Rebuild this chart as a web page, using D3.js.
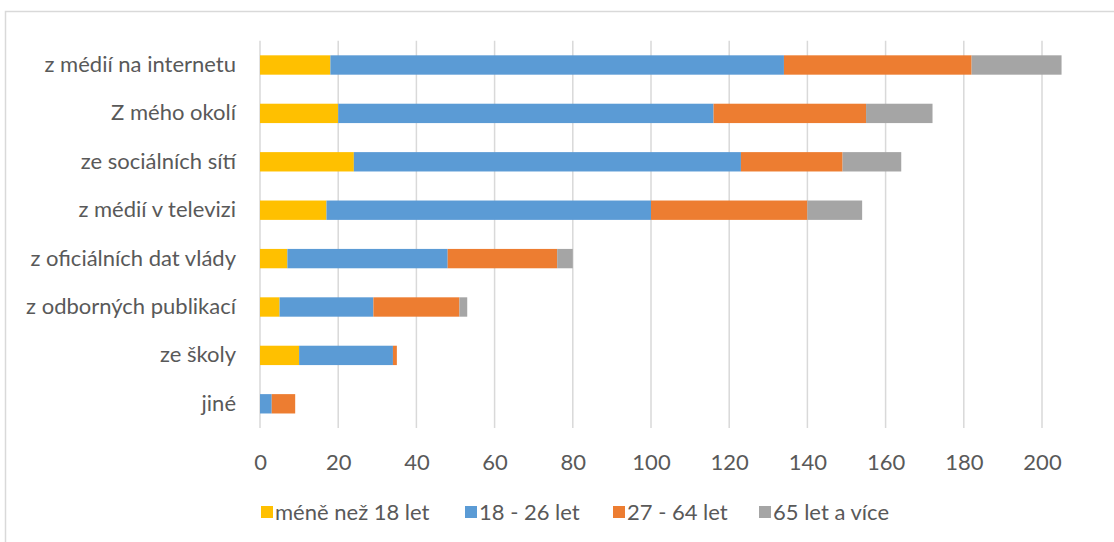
<!DOCTYPE html>
<html>
<head>
<meta charset="utf-8">
<script src="https://cdn.jsdelivr.net/npm/d3@7"></script>
<style>
  html, body { margin: 0; padding: 0; background: #ffffff; }
  svg { display: block; font-family: Lato, "Open Sans", sans-serif; }
</style>
</head>
<body>
<svg id="chart" width="1114" height="542"></svg>
<script>
const categories = [
  "z médií na internetu",
  "Z mého okolí",
  "ze sociálních sítí",
  "z médií v televizi",
  "z oficiálních dat vlády",
  "z odborných publikací",
  "ze školy",
  "jiné"
];
const seriesNames = ["méně než 18 let", "18 - 26 let", "27 - 64 let", "65 let a více"];
const under18  = [18, 20, 24, 17, 7, 5, 10, 0];
const age18_26 = [116, 96, 99, 83, 41, 24, 24, 3];
const age27_64 = [48, 39, 26, 40, 28, 22, 1, 6];
const age65    = [23, 17, 15, 14, 4, 2, 0, 0];
const xTicks = [0, 20, 40, 60, 80, 100, 120, 140, 160, 180, 200];
const colors = ["#FFC000", "#5B9BD5", "#ED7D31", "#A5A5A5"];

const rows = categories.map((c, i) => ({
  cat: c,
  [seriesNames[0]]: under18[i],
  [seriesNames[1]]: age18_26[i],
  [seriesNames[2]]: age27_64[i],
  [seriesNames[3]]: age65[i]
}));

const svg = d3.select("#chart");
const textColor = "#595959";
const fontSize = 22;

// outer chart border
svg.append("rect")
  .attr("x", 5.5).attr("y", 11.5)
  .attr("width", 1200).attr("height", 600)
  .attr("fill", "none").attr("stroke", "#d9d9d9").attr("stroke-width", 1.5);

const plot = { left: 260, right: 1042, top: 40.8, bottom: 428 };

const x = d3.scaleLinear().domain([0, 200]).range([plot.left, plot.right]);
const y = d3.scaleBand().domain(categories).range([plot.top, plot.bottom])
  .paddingInner(0.6).paddingOuter(0.3);

// gridlines
svg.append("g").selectAll("line").data(xTicks).join("line")
  .attr("x1", d => x(d)).attr("x2", d => x(d))
  .attr("y1", plot.top).attr("y2", plot.bottom)
  .attr("stroke", "#d9d9d9").attr("stroke-width", 1.5);

// stacked bars
const stack = d3.stack().keys(seriesNames);
const stacked = stack(rows);
svg.append("g").selectAll("g").data(stacked).join("g")
  .attr("fill", (d, i) => colors[i])
  .selectAll("rect").data(d => d).join("rect")
  .attr("x", d => x(d[0]))
  .attr("width", d => Math.max(0, x(d[1]) - x(d[0])))
  .attr("y", d => y(d.data.cat))
  .attr("height", y.bandwidth());

// x axis labels
const xAxis = d3.axisBottom(x).tickValues(xTicks).tickSize(0).tickPadding(0);
const gx = svg.append("g").attr("transform", `translate(0, ${plot.bottom + 26})`).call(xAxis);
gx.select(".domain").remove();
gx.selectAll("text").attr("fill", textColor).attr("font-size", fontSize)
  .attr("font-family", "Lato, 'Open Sans', sans-serif").attr("dy", "0.35em").attr("y", 8);

// y axis labels
const yAxis = d3.axisLeft(y).tickSize(0).tickPadding(24);
const gy = svg.append("g").attr("transform", `translate(${plot.left}, 0)`).call(yAxis);
gy.select(".domain").remove();
gy.selectAll("text").attr("fill", textColor).attr("font-size", fontSize)
  .attr("font-family", "Lato, 'Open Sans', sans-serif");

// legend
const legendX = [261, 465, 613, 759];
const legendY = 512;
const lg = svg.append("g").selectAll("g").data(seriesNames).join("g")
  .attr("transform", (d, i) => `translate(${legendX[i]}, ${legendY})`);
lg.append("rect").attr("x", 0).attr("y", -6).attr("width", 12).attr("height", 12)
  .attr("fill", (d, i) => colors[i]);
lg.append("text").attr("x", 14).attr("y", 0).attr("dy", "0.35em")
  .attr("fill", textColor).attr("font-size", fontSize).text(d => d);
</script>
</body>
</html>
